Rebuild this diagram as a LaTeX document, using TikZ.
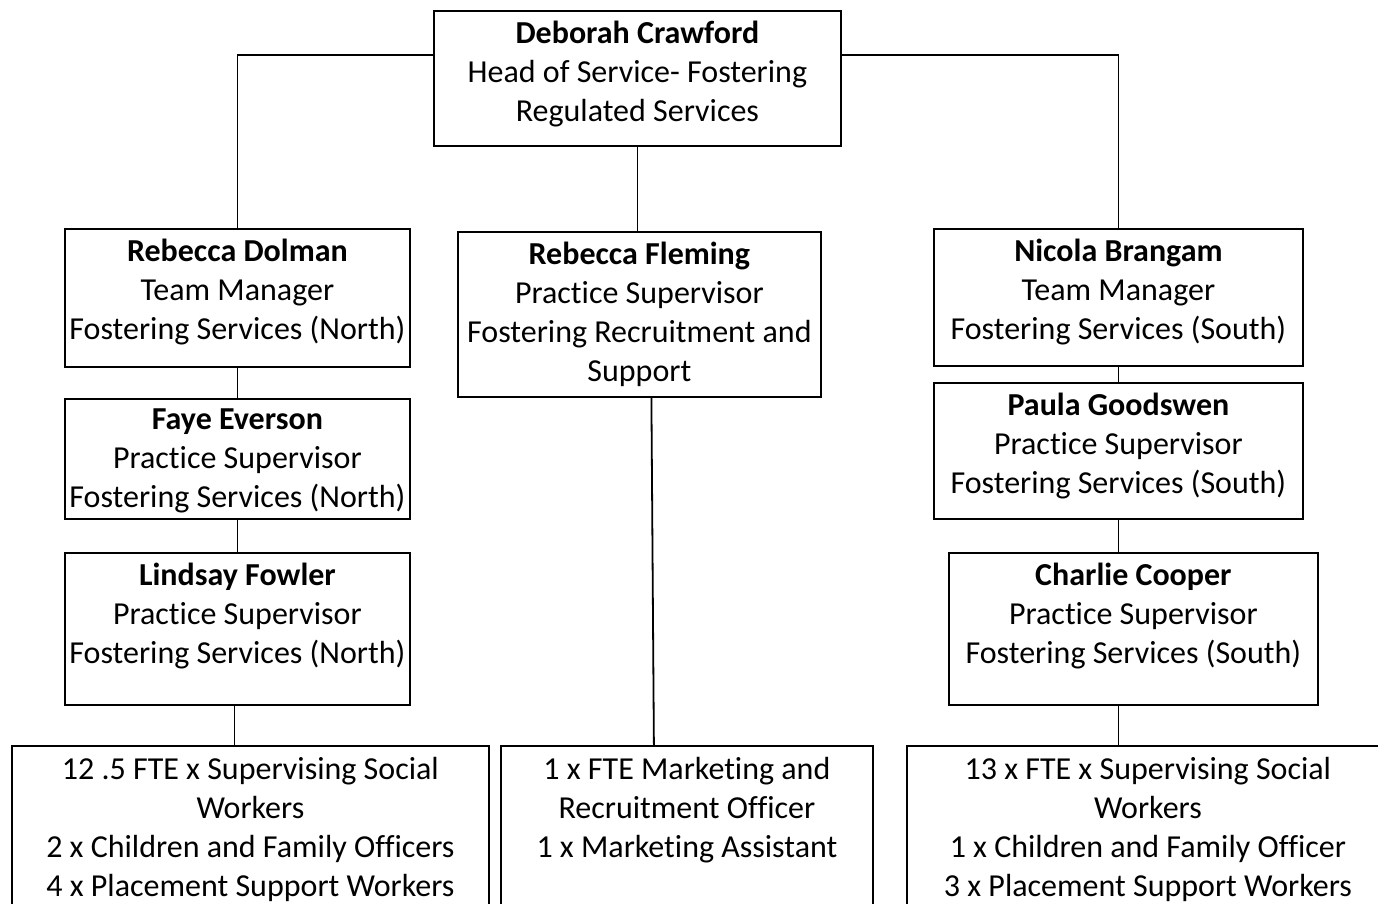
\documentclass[tikz,border=0pt]{standalone}
\usepackage{fontspec}
\setmainfont[Ligatures=NoCommon]{Carlito}
\usetikzlibrary{calc}
\tikzset{
  orgbox/.style={draw=black, line width=1.8pt, rectangle, inner sep=0pt, anchor=north west},
  orgtxt/.style={anchor=north, inner sep=0pt, align=center, font=\fontsize{32pt}{39pt}\selectfont},
  conn/.style={draw=black, line width=1.8pt}
}
\begin{document}
\begin{tikzpicture}[x=1pt,y=-1pt]
\clip (0,0) rectangle (1378,903);
\fill[white] (0,0) rectangle (1378,903);
% boxes
\node[orgbox, minimum width=407pt, minimum height=135pt] (dc) at (433,10) {};
\node[orgbox, minimum width=345pt, minimum height=138pt] (rd) at (64,228) {};
\node[orgbox, minimum width=345pt, minimum height=120pt] (fe) at (64,398) {};
\node[orgbox, minimum width=345pt, minimum height=152pt] (lf) at (64,552) {};
\node[orgbox, minimum width=477pt, minimum height=180pt] (bl) at (11,745) {};
\node[orgbox, minimum width=363pt, minimum height=165pt] (rf) at (457,231) {};
\node[orgbox, minimum width=372pt, minimum height=180pt] (bm) at (500,745) {};
\node[orgbox, minimum width=369pt, minimum height=137pt] (nb) at (933,228) {};
\node[orgbox, minimum width=369pt, minimum height=136pt] (pg) at (933,382) {};
\node[orgbox, minimum width=369pt, minimum height=152pt] (cc) at (948,552) {};
\node[orgbox, minimum width=482pt, minimum height=180pt] (br) at (906,745) {};
% texts
\node[orgtxt] (dct) at ([yshift=-11pt]dc.north) {\textbf{Deborah Crawford}\\Head of Service- Fostering\\Regulated Services};
\node[orgtxt] (rdt) at ([yshift=-11pt]rd.north) {\textbf{Rebecca Dolman}\\Team Manager\\Fostering Services (North)};
\node[orgtxt] (fet) at ([yshift=-11pt]fe.north) {\textbf{Faye Everson}\\Practice Supervisor\\Fostering Services (North)};
\node[orgtxt] (lft) at ([yshift=-11pt]lf.north) {\textbf{Lindsay Fowler}\\Practice Supervisor\\Fostering Services (North)};
\node[orgtxt] (blt) at ([yshift=-12pt]bl.north) {12 .5 FTE x Supervising Social\\Workers\\2 x Children and Family Officers\\4 x Placement Support Workers};
\node[orgtxt] (rft) at ([yshift=-11pt]rf.north) {\textbf{Rebecca Fleming}\\Practice Supervisor\\Fostering Recruitment and\\Support};
\node[orgtxt] (bmt) at ([yshift=-12pt]bm.north) {1 x FTE Marketing and\\Recruitment Officer\\1 x Marketing Assistant};
\node[orgtxt] (nbt) at ([yshift=-11pt]nb.north) {\textbf{Nicola Brangam}\\Team Manager\\Fostering Services (South)};
\node[orgtxt] (pgt) at ([yshift=-11pt]pg.north) {\textbf{Paula Goodswen}\\Practice Supervisor\\Fostering Services (South)};
\node[orgtxt] (cct) at ([yshift=-11pt]cc.north) {\textbf{Charlie Cooper}\\Practice Supervisor\\Fostering Services (South)};
\node[orgtxt] (brt) at ([yshift=-12pt]br.north) {13 x FTE x Supervising Social\\Workers\\1 x Children and Family Officer\\3 x Placement Support Workers};
% connectors
\draw[conn] ([yshift=-45pt]dc.north west) -| (rd.north);
\draw[conn] ([yshift=-45pt]dc.north east) -| (nb.north);
\draw[conn] (dc.south) -- (dc.south |- rf.north);
\draw[conn] (rd.south) -- (fe.north);
\draw[conn] (fe.south) -- (lf.north);
\draw[conn] ([xshift=-3pt]lf.south) -- ([xshift=-3pt]lf.south |- bl.north);
\draw[conn] ([xshift=12pt]rf.south) -- ([xshift=-33pt]bm.north);
\draw[conn] (nb.south) -- (pg.north);
\draw[conn] (pg.south) -- (pg.south |- cc.north);
\draw[conn] (cc.south -| pg.south) -- (pg.south |- br.north);
\end{tikzpicture}
\end{document}
